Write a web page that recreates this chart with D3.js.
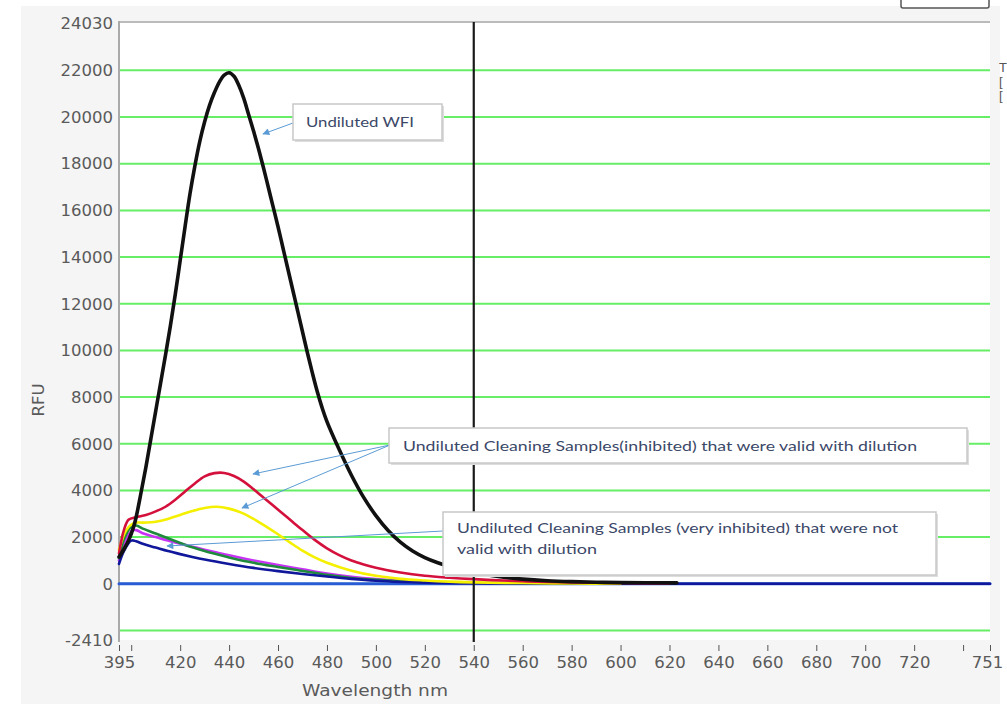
<!DOCTYPE html>
<meta charset="utf-8">
<script src="https://d3js.org/d3.v7.min.js"></script>
<style>
body { margin: 0; background: #fff; }
.tick-label { font: 16.5px "DejaVu Sans", sans-serif; fill: #5a5a5a; }
.axis-title { font: 16.5px "DejaVu Sans", sans-serif; fill: #5a5a5a; }
.note { font: 14px Lato, "Open Sans", sans-serif; fill: #3b4868; }
.curve { fill: none; stroke-linejoin: round; stroke-linecap: round; }
</style>
<body>
<script>

// spectra (wavelength nm, RFU)
var wfiNm  = [395,397,399,401,402,404,406,408,410,412,414,416,418,420,422,424,426,428,430,432,434,436,438,440,442,444,446,448,450,452,454,456,458,460,462,464,466,468,470,472,474,476,478,480,485,490,495,500,505,510,515,520,525,530,540,550,560,570,580,590,600,623]
var wfiRfu = [1150,1480,1880,2450,2850,3900,5000,6200,7400,8600,9800,11050,12400,13850,15300,16700,17900,18950,19800,20500,21050,21500,21800,21900,21750,21350,20800,20100,19400,18650,17850,17000,16150,15300,14400,13500,12600,11700,10800,9900,9050,8250,7550,6950,5750,4650,3700,2920,2280,1780,1400,1120,910,740,480,310,200,130,90,65,50,40]

var redNm  = [395,397,399,402,406,410,414,418,422,426,430,434,438,442,446,450,454,458,462,466,470,475,480,485,490,495,500,510,520,530,540,560,580,600,620]
var redRfu = [1300,2300,2750,2850,2950,3100,3300,3600,3950,4300,4600,4740,4750,4620,4380,4050,3700,3350,3000,2650,2300,1880,1520,1230,1000,830,690,480,340,260,200,110,60,30,10]

var yellowNm  = [395,398,401,405,410,415,420,425,430,435,440,445,450,455,460,465,470,475,480,490,500,510,520,530,540,560,580,600]
var yellowRfu = [1450,2300,2600,2620,2660,2780,2950,3120,3250,3300,3220,3050,2780,2460,2120,1760,1420,1130,900,560,340,210,140,90,60,30,10,0]

var greenNm  = [395,397,400,402,405,410,415,420,425,430,435,440,450,460,470,480,490,500,510,520,540,560,580]
var greenRfu = [1100,1900,2450,2500,2350,2150,1950,1750,1560,1400,1260,1130,900,720,550,380,250,170,110,70,30,10,0]

var violetNm  = [395,397,400,402,405,410,415,420,425,430,435,440,450,460,470,480,490,500,510,520,540,560,580]
var violetRfu = [1000,1700,2250,2300,2150,2000,1850,1720,1590,1460,1340,1220,1000,800,620,440,300,200,130,80,35,10,0]

var navyNm  = [395,397,400,402,405,410,415,420,425,430,440,450,460,470,480,490,500,510,520,540,560,600,751]
var navyRfu = [850,1400,1850,1820,1700,1550,1400,1270,1150,1040,850,680,540,420,310,210,130,80,50,20,10,0,0]

var baseNm  = [395,751]
var baseRfu = [0,0]

var yTicks = [24030,22000,20000,18000,16000,14000,12000,10000,8000,6000,4000,2000,0,-2410]
var yGrid  = [22000,20000,18000,16000,14000,12000,10000,8000,6000,4000,2000,0,-2000]
var xTicks = [395,400,420,440,460,480,500,520,540,560,580,600,620,640,660,680,700,720,740,751]
var xLabelled = [395,420,440,460,480,500,520,540,560,580,600,620,640,660,680,700,720,751]
var cursorNm = 540

var series = [
  {nm: baseNm,   rfu: baseRfu,   color: "#2a5bd7", w: 3},
  {nm: violetNm, rfu: violetRfu, color: "#c832f5", w: 2.6},
  {nm: greenNm,  rfu: greenRfu,  color: "#1f8a3c", w: 2.6},
  {nm: navyNm,   rfu: navyRfu,   color: "#10179a", w: 2.6},
  {nm: yellowNm, rfu: yellowRfu, color: "#f4f000", w: 2.6},
  {nm: redNm,    rfu: redRfu,    color: "#d4103c", w: 2.6},
  {nm: wfiNm,    rfu: wfiRfu,    color: "#111111", w: 3.6}
]

var width = 1007, height = 704
var plot = {left: 119, right: 990, top: 23, bottom: 640}

var svg = d3.select("body").append("svg")
  .attr("width", width)
  .attr("height", height)

// grey panel behind the chart
svg.append("rect")
  .attr("x", 21).attr("y", 6)
  .attr("width", 979).attr("height", height - 6)
  .attr("fill", "#f5f5f5")

svg.append("rect")
  .attr("x", plot.left).attr("y", plot.top)
  .attr("width", plot.right - plot.left).attr("height", plot.bottom - plot.top)
  .attr("fill", "#fff")

var xScale = d3.scaleLinear().domain([395, 751]).range([plot.left, plot.right])
var yScale = d3.scaleLinear().domain([-2410, 24030]).range([plot.bottom, plot.top])

// green grid
svg.selectAll(".grid")
  .data(yGrid).enter().append("line")
  .attr("x1", plot.left).attr("x2", plot.right)
  .attr("y1", function(d) { return yScale(d) })
  .attr("y2", function(d) { return yScale(d) })
  .attr("stroke", "#66ee66")
  .attr("stroke-width", 2)

// frame: top and left
svg.append("line")
  .attr("x1", plot.left).attr("x2", plot.right)
  .attr("y1", plot.top - 1).attr("y2", plot.top - 1)
  .attr("stroke", "#bbb").attr("stroke-width", 2)
svg.append("line")
  .attr("x1", plot.left).attr("x2", plot.left)
  .attr("y1", plot.top - 2).attr("y2", plot.bottom + 2)
  .attr("stroke", "#aaa").attr("stroke-width", 2)

// y labels
var yAxis = d3.axisLeft(yScale).tickValues(yTicks).tickSize(0).tickPadding(6)
  .tickFormat(function(d) { return String(d) })
var gy = svg.append("g").attr("transform", "translate(" + plot.left + ",0)").call(yAxis)
gy.select(".domain").remove()
gy.selectAll("text").attr("class", "tick-label").attr("fill", null)
gy.attr("font-family", null).attr("font-size", null)

// x ticks and labels
var xAxis = d3.axisBottom(xScale).tickValues(xTicks).tickSize(6).tickPadding(5)
  .tickFormat(function(d) { return xLabelled.indexOf(d) >= 0 ? d : "" })
var gx = svg.append("g").attr("transform", "translate(0," + (plot.bottom + 5) + ")").call(xAxis)
gx.select(".domain").remove()
gx.selectAll("line").attr("stroke", "#555")
gx.selectAll("text").attr("class", "tick-label").attr("fill", null)
  .attr("dx", function(d) { return d == 751 ? -3 : 0 })
gx.attr("font-family", null).attr("font-size", null)

svg.append("text")
  .attr("class", "axis-title")
  .attr("x", 302).attr("y", 696)
  .attr("textLength", 146)
  .attr("lengthAdjust", "spacingAndGlyphs")
  .text("Wavelength nm")

svg.append("text")
  .attr("class", "axis-title")
  .attr("transform", "translate(44,400) rotate(-90)")
  .attr("text-anchor", "middle")
  .text("RFU")

// curves
var line = d3.line()
  .x(function(d) { return xScale(d[0]) })
  .y(function(d) { return yScale(d[1]) })
  .curve(d3.curveCatmullRom.alpha(0.5))

series.forEach(function(s) {
  svg.append("path")
    .attr("class", "curve")
    .attr("d", line(s.nm.map(function(v, i) { return [v, s.rfu[i]] })))
    .attr("stroke", s.color)
    .attr("stroke-width", s.w)
})

// cursor line
svg.append("line")
  .attr("x1", xScale(cursorNm)).attr("x2", xScale(cursorNm))
  .attr("y1", plot.top - 1).attr("y2", plot.bottom + 2)
  .attr("stroke", "#1a1a1a").attr("stroke-width", 2.2)

// callouts
var defs = svg.append("defs")
defs.append("marker")
  .attr("id", "head")
  .attr("viewBox", "0 0 10 10")
  .attr("refX", 9).attr("refY", 5)
  .attr("markerWidth", 9).attr("markerHeight", 7)
  .attr("markerUnits", "userSpaceOnUse")
  .attr("orient", "auto")
  .append("path").attr("d", "M0,0L10,5L0,10z").attr("fill", "#5b9bd5")

var arrows = [
  [293, 123, 263, 134],
  [390, 445, 253, 474],
  [390, 445, 242, 508],
  [443, 531, 167, 546]
]
svg.selectAll(".arrow")
  .data(arrows).enter().append("line")
  .attr("x1", function(d) { return d[0] }).attr("y1", function(d) { return d[1] })
  .attr("x2", function(d) { return d[2] }).attr("y2", function(d) { return d[3] })
  .attr("stroke", "#5b9bd5").attr("stroke-width", 1)
  .attr("marker-end", "url(#head)")

var notes = [
  {x: 293, y: 104, w: 149, h: 36, lines: ["Undiluted WFI"], tx: 306, ty: 127, tw: [108]},
  {x: 389, y: 428, w: 578, h: 35, lines: ["Undiluted Cleaning Samples(inhibited) that were valid with dilution"], tx: 403, ty: 451, tw: [514]},
  {x: 443, y: 512, w: 493, h: 63, lines: ["Undiluted Cleaning Samples (very inhibited) that were not", "valid with dilution"], tx: 457, ty: 533, tw: [441, 140]}
]
notes.forEach(function(n) {
  svg.append("rect")
    .attr("x", n.x + 2).attr("y", n.y + 2).attr("width", n.w).attr("height", n.h)
    .attr("fill", "#ddd")
  svg.append("rect")
    .attr("x", n.x).attr("y", n.y).attr("width", n.w).attr("height", n.h)
    .attr("fill", "#fff").attr("stroke", "#c8c8c8").attr("stroke-width", 1.5)
  n.lines.forEach(function(t, i) {
    svg.append("text")
      .attr("class", "note")
      .attr("x", n.tx).attr("y", n.ty + i * 21)
      .attr("textLength", n.tw[i])
      .attr("lengthAdjust", "spacingAndGlyphs")
      .text(t)
  })
})

// legend box cut off at the top right
svg.append("rect")
  .attr("x", 901).attr("y", -10).attr("width", 88).attr("height", 18).attr("rx", 2)
  .attr("fill", "#fff").attr("stroke", "#555").attr("stroke-width", 1.5)
svg.selectAll(".cut")
  .data(["T", "[", "["]).enter().append("text")
  .attr("x", 999).attr("y", function(d, i) { return 72 + i * 14 })
  .style("font", "13px 'Liberation Sans', sans-serif").attr("fill", "#555")
  .text(function(d) { return d })

</script>
</body>
